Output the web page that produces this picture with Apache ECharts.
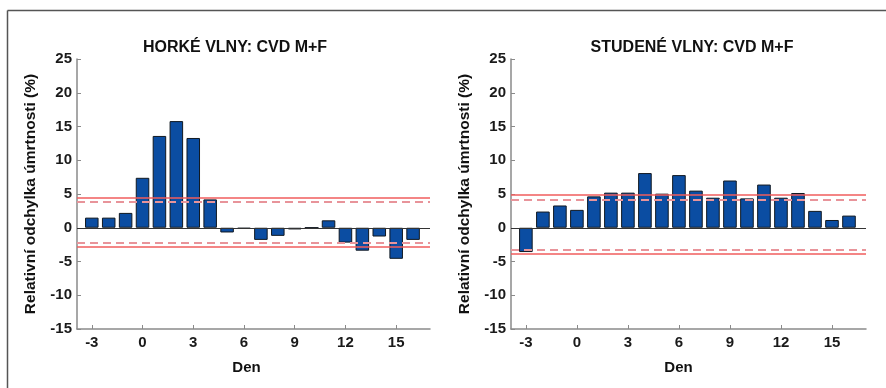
<!DOCTYPE html>
<html>
<head>
<meta charset="utf-8">
<script src="https://cdn.jsdelivr.net/npm/echarts@6/dist/echarts.min.js"></script>
<style>
  html, body { margin: 0; padding: 0; background: #fff; }
  #chart { width: 886px; height: 388px; }
</style>
</head>
<body>
<div id="chart"></div>
<script>
// Days relative to the onset of the wave
const days = [-3, -2, -1, 0, 1, 2, 3, 4, 5, 6, 7, 8, 9, 10, 11, 12, 13, 14, 15, 16];
// Relative deviation of CVD mortality (%), males + females
const heatValues = [1.5, 1.5, 2.2, 7.4, 13.6, 15.8, 13.3, 4.2, -0.7, -0.15, -1.8, -1.2, -0.25, 0, 1.1, -2.2, -3.4, -1.3, -4.6, -1.8];
const coldValues = [-3.6, 2.4, 3.3, 2.65, 4.65, 5.2, 5.2, 8.1, 5.05, 7.8, 5.5, 4.45, 7.0, 4.35, 6.4, 4.45, 5.15, 2.5, 1.15, 1.8];
// Confidence bands: [outer upper, inner upper, inner lower, outer lower]
const heatBands = [4.45, 3.85, -2.2, -2.8];
const coldBands = [4.85, 4.1, -3.3, -3.9];
// Axis ticks
const xTicks = [-3, 0, 3, 6, 9, 12, 15];
const titles = ['HORKÉ VLNY: CVD M+F', 'STUDENÉ VLNY: CVD M+F'];
const yName = 'Relativní odchylka úmrtnosti (%)';
const xName = 'Den';

const FONT = '"Liberation Sans", Arial, sans-serif';
const X_MIN = -3.875, X_MAX = 17;
const grids = [
  { left: 77, top: 59, width: 353, height: 270 },
  { left: 511, top: 59, width: 355, height: 270 }
];

const chart = echarts.init(document.getElementById('chart'), null, { renderer: 'canvas' });

function bandLines(b) {
  const solid = { type: 'solid', color: '#f05c5c', width: 1.6 };
  const dashed = { type: [8, 5], color: '#e8949a', width: 1.8 };
  return [
    { yAxis: 0, lineStyle: { type: 'solid', color: '#333', width: 1.2 } },
    { yAxis: b[0], lineStyle: solid },
    { yAxis: b[1], lineStyle: dashed },
    { yAxis: b[2], lineStyle: dashed },
    { yAxis: b[3], lineStyle: solid }
  ];
}

function xAxisFor(i) {
  return {
    type: 'value', gridIndex: i, min: X_MIN, max: X_MAX,
    name: xName, nameLocation: 'middle', nameGap: 31,
    nameTextStyle: { fontFamily: FONT, fontWeight: 'bold', fontSize: 15, color: '#111',
      padding: i === 0 ? [0, 14, 0, 0] : [0, 20, 0, 0] },
    axisLine: { onZero: false, lineStyle: { color: '#8a8a8a', width: 1.5 } },
    axisTick: { show: true, inside: true, length: 4, customValues: xTicks, lineStyle: { color: '#8a8a8a' } },
    axisLabel: { customValues: xTicks, margin: 6, fontFamily: FONT, fontWeight: 'bold', fontSize: 15, color: '#1a1a1a' },
    splitLine: { show: false }
  };
}

function yAxisFor(i) {
  return {
    type: 'value', gridIndex: i, min: -15, max: 25, interval: 5,
    name: yName, nameLocation: 'middle', nameGap: 38,
    nameTextStyle: { fontFamily: FONT, fontWeight: 'bold', fontSize: 15.5, color: '#111' },
    axisLine: { show: true, onZero: false, lineStyle: { color: '#8a8a8a', width: 1.5 } },
    axisTick: { show: true, inside: true, length: 4, lineStyle: { color: '#8a8a8a' } },
    axisLabel: { margin: 5, fontFamily: FONT, fontWeight: 'bold', fontSize: 15, color: '#1a1a1a' },
    splitLine: { show: false }
  };
}

function barSeries(i, values, bands) {
  const dayPx = grids[i].width / (X_MAX - X_MIN);
  return {
    type: 'bar', xAxisIndex: i, yAxisIndex: i,
    data: days.map((d, k) => [d, values[k]]),
    barWidth: dayPx * 0.8,
    itemStyle: { color: '#0b4da2', borderColor: '#101820', borderWidth: 1 },
    markLine: { silent: true, symbol: 'none', label: { show: false }, data: bandLines(bands) }
  };
}

chart.setOption({
  animation: false,
  backgroundColor: '#fff',
  title: [
    { text: titles[0], left: 230, top: 35, textAlign: 'center',
      textStyle: { fontFamily: FONT, fontWeight: 'bold', fontSize: 16, color: '#111' } },
    { text: titles[1], left: 687, top: 35, textAlign: 'center',
      textStyle: { fontFamily: FONT, fontWeight: 'bold', fontSize: 16, color: '#111' } }
  ],
  grid: grids,
  xAxis: [xAxisFor(0), xAxisFor(1)],
  yAxis: [yAxisFor(0), yAxisFor(1)],
  series: [barSeries(0, heatValues, heatBands), barSeries(1, coldValues, coldBands)],
  graphic: [
    { type: 'line', shape: { x1: 7.5, y1: 10.5, x2: 886, y2: 10.5 }, style: { stroke: '#555', lineWidth: 1.5 } },
    { type: 'line', shape: { x1: 7.5, y1: 10.5, x2: 7.5, y2: 388 }, style: { stroke: '#555', lineWidth: 1.5 } }
  ]
});
</script>
</body>
</html>
